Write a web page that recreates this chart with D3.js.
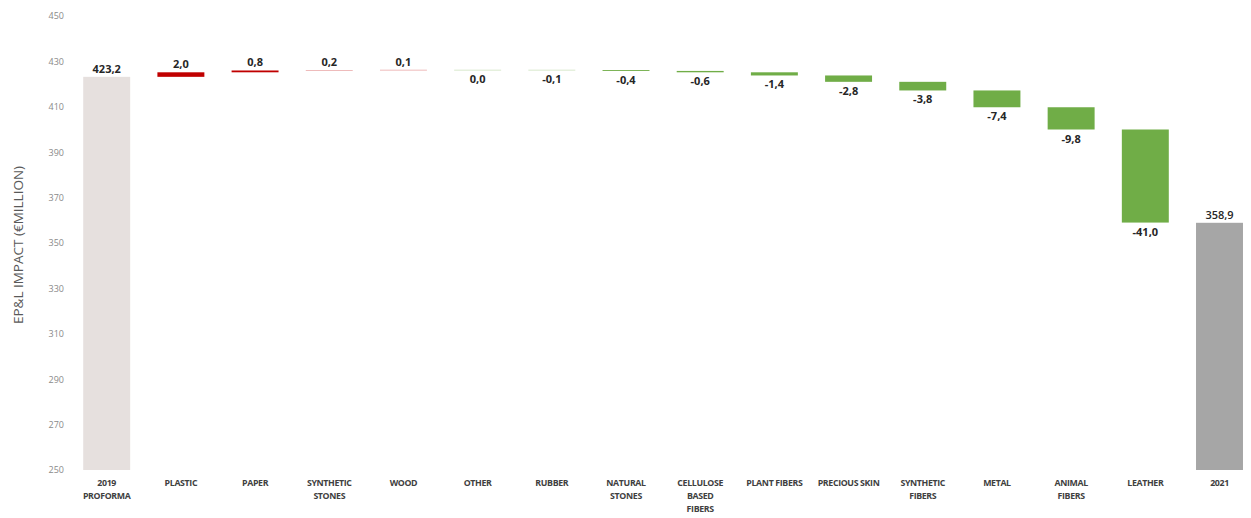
<!DOCTYPE html>
<html>
<head>
<meta charset="utf-8">
<script src="https://cdn.jsdelivr.net/npm/d3@7"></script>
<style>
  html, body { margin: 0; padding: 0; background: #ffffff; }
  svg { display: block; }
</style>
</head>
<body>
<svg id="chart" width="1251" height="518"></svg>
<script>
// EP&L impact bridge, 2019 proforma to 2021, by raw material (€ million)
const categories = [
  "2019 PROFORMA", "PLASTIC", "PAPER", "SYNTHETIC STONES", "WOOD", "OTHER",
  "RUBBER", "NATURAL STONES", "CELLULOSE BASED FIBERS", "PLANT FIBERS",
  "PRECIOUS SKIN", "SYNTHETIC FIBERS", "METAL", "ANIMAL FIBERS", "LEATHER", "2021"
];
// how each category label breaks over lines
const categoryLines = [
  ["2019", "PROFORMA"], ["PLASTIC"], ["PAPER"], ["SYNTHETIC", "STONES"], ["WOOD"], ["OTHER"],
  ["RUBBER"], ["NATURAL", "STONES"], ["CELLULOSE", "BASED", "FIBERS"], ["PLANT FIBERS"],
  ["PRECIOUS SKIN"], ["SYNTHETIC", "FIBERS"], ["METAL"], ["ANIMAL", "FIBERS"], ["LEATHER"], ["2021"]
];
const startValue = 423.2;
const deltas = [2.0, 0.8, 0.2, 0.1, 0.0, -0.1, -0.4, -0.6, -1.4, -2.8, -3.8, -7.4, -9.8, -41.0];
const endValue = 358.9;
const yTicks = [250, 270, 290, 310, 330, 350, 370, 390, 410, 430, 450];
const yTitle = "EP&L IMPACT (€MILLION)";

const colors = { start: "#e6e0de", up: "#c00000", down: "#70ad47", end: "#a6a6a6" };

// build the waterfall steps
const steps = [];
steps.push({ cat: categories[0], lo: 250, hi: startValue, value: startValue, kind: "start" });
let running = startValue;
deltas.forEach((d, i) => {
  const from = running, to = running + d;
  steps.push({ cat: categories[i + 1], lo: Math.min(from, to), hi: Math.max(from, to), value: d, kind: d > 0 ? "up" : "down" });
  running = to;
});
steps.push({ cat: categories[categories.length - 1], lo: 250, hi: endValue, value: endValue, kind: "end" });

const svg = d3.select("#chart");

const x = d3.scaleBand()
  .domain(categories)
  .range([75.8, 1250.4])
  .paddingInner(0.367)
  .paddingOuter(0.1);

const y = d3.scaleLinear().domain([250, 450]).range([470, 16]);

// one decimal, comma separator, plain hyphen for negatives
const fmt = v => (v < 0 ? "-" : "") + Math.abs(v).toFixed(1).replace(".", ",");

// y axis: tick labels only
const yAxis = svg.append("g")
  .attr("transform", "translate(64,0)")
  .call(d3.axisLeft(y).tickValues(yTicks).tickSize(0).tickPadding(0).tickFormat(d3.format("d")));
yAxis.select(".domain").remove();
yAxis.selectAll("text")
  .attr("font-family", "'Open Sans', sans-serif")
  .attr("font-size", 9)
  .attr("fill", "#8a8a8a");

svg.append("text")
  .attr("transform", "translate(23,245) rotate(-90)")
  .attr("text-anchor", "middle")
  .attr("font-family", "'Open Sans', sans-serif")
  .attr("font-size", 13.5)
  .attr("fill", "#595959")
  .text(yTitle);

// bars
svg.append("g").selectAll("rect")
  .data(steps)
  .join("rect")
  .attr("x", d => x(d.cat))
  .attr("width", x.bandwidth())
  .attr("y", d => y(d.hi))
  .attr("height", d => Math.max(y(d.lo) - y(d.hi), 0.6))
  .attr("fill", d => colors[d.kind])
  .attr("opacity", d => (y(d.lo) - y(d.hi)) < 0.6 ? 0.45 : 1);

// value labels: totals and increases above, decreases below
svg.append("g").selectAll("text")
  .data(steps)
  .join("text")
  .attr("x", d => x(d.cat) + x.bandwidth() / 2)
  .attr("y", d => (d.kind === "down") ? y(d.lo) + 13 : y(d.hi) - 4)
  .attr("text-anchor", "middle")
  .attr("font-family", "'Open Sans', sans-serif")
  .attr("font-size", 11)
  .attr("font-weight", d => d.kind === "end" ? 600 : 700)
  .attr("fill", "#262626")
  .text(d => fmt(d.value));

// category labels
const catG = svg.append("g").selectAll("text")
  .data(categories)
  .join("text")
  .attr("text-anchor", "middle")
  .attr("font-family", "'Open Sans', sans-serif")
  .attr("font-size", 8.8)
  .attr("font-weight", 700)
  .attr("letter-spacing", -0.35)
  .attr("fill", "#404040");
catG.each(function (c, i) {
  const t = d3.select(this);
  categoryLines[i].forEach((line, j) => {
    t.append("tspan")
      .attr("x", x(c) + x.bandwidth() / 2)
      .attr("y", 486 + j * 13)
      .text(line);
  });
});
</script>
</body>
</html>
